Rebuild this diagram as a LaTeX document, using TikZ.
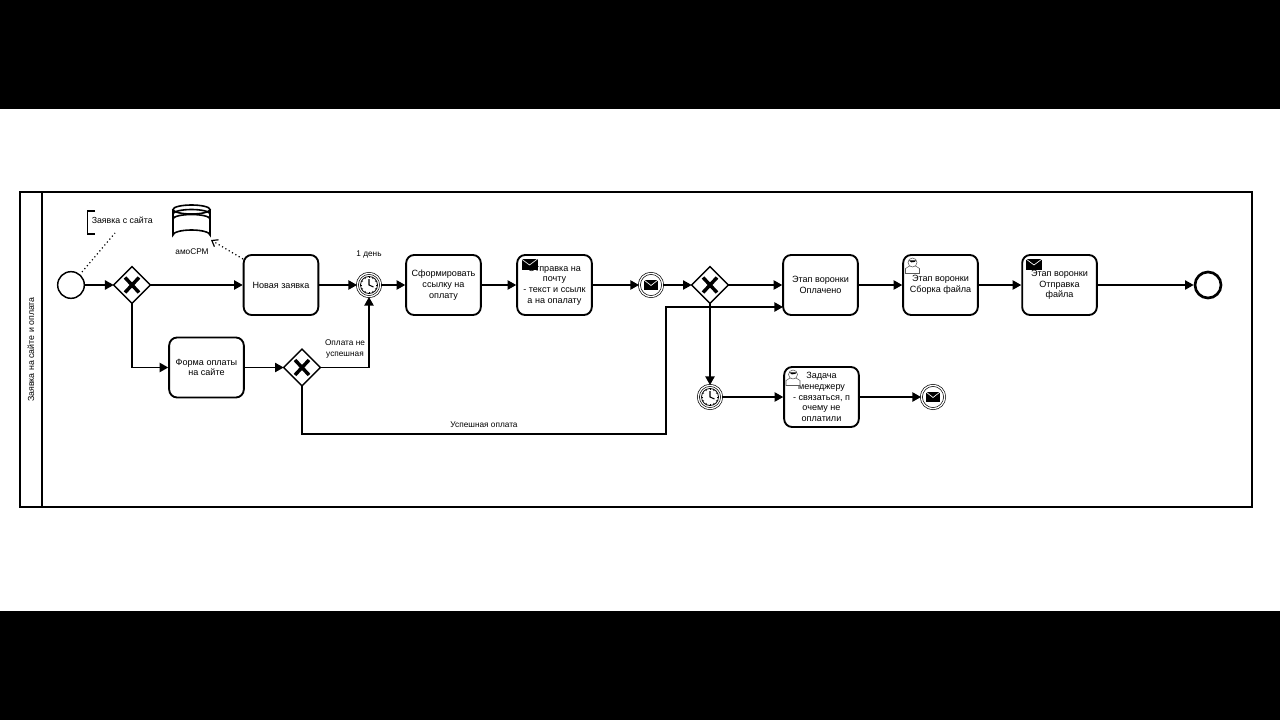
\documentclass[tikz,border=0pt]{standalone}
\usepackage{fontspec}
\setmainfont{Liberation Sans}
\usetikzlibrary{arrows.meta,shapes.geometric}

\tikzset{
    lanebox/.style={draw,line width=1.1pt,inner sep=0pt},
    task/.style={draw,line width=1.4pt,rounded corners=6pt,minimum width=56pt,minimum height=45pt,
        inner sep=0pt,align=center,font=\fontsize{6.8}{8}\selectfont},
    gateway/.style={diamond,draw,line width=1.1pt,fill=white,inner sep=0pt,outer sep=0pt,minimum width=27.5pt,minimum height=27.5pt},
    startevent/.style={circle,draw,line width=1.1pt,inner sep=0pt,minimum size=20pt},
    stopevent/.style={circle,draw,line width=2pt,inner sep=0pt,minimum size=19.5pt},
    midevent/.style={circle,draw,line width=.5pt,double,double distance=1pt,inner sep=0pt,minimum size=17.5pt},
    caption/.style={inner sep=0pt,align=center,font=\fontsize{6.2}{8}\selectfont},
    flow/.style={draw,line width=1.1pt,-{Triangle[length=6.5pt,width=7pt]}},
    assoc/.style={draw,line width=.9pt,dotted},
    mailicon/.pic={
        \fill (-8,-5.5) rectangle (8,5.5);
        \draw[white,line width=.5pt] (-8,-5.5)--(0,.5)--(8,-5.5);
    },
    smallmail/.pic={
        \fill (-7,-5) rectangle (7,5);
        \draw[white,line width=.5pt] (-7,-5)--(0,.5)--(7,-5);
    },
    usericon/.pic={
        \draw[black!65,line width=.4pt,fill=white] (-7,8)--(-7,3)--(-3,.5)--(3,.5)--(7,3)--(7,8)--cycle;
        \draw[black!65,line width=.4pt,fill=white] (0,-3) circle (4.5);
        \fill (-3.9,-5.25) arc (150:30:4.5) -- cycle;
    },
    clockicon/.pic={
        \draw[line width=.6pt] (0,0) circle (8.5);
        \foreach \ang in {0,30,...,330}
            \draw[line width=.4pt] (\ang:7) -- (\ang:8.5);
        \draw[line width=.8pt] (0,-6) -- (0,0) -- (4.5,2);
    },
    crossicon/.pic={
        \draw[line width=2.6pt] (-7,-7.5) -- (7,7.5);
        \draw[line width=2.6pt] (-7,7.5) -- (7,-7.5);
    },
}

\begin{document}
\begin{tikzpicture}[x=.75pt,y=-.75pt]
    \useasboundingbox (0,0) rectangle (1280,720);
    \fill (0,0) rectangle (1280,109);
    \fill (0,611) rectangle (1280,720);

    % lane
    \node[lanebox,minimum width=1210*.75pt,minimum height=315*.75pt] (lane) at (647,349.5) {};
    \node[lanebox,minimum width=315*.75pt,minimum height=22*.75pt,rotate=90,font=\fontsize{6.6}{8}\selectfont] (head) at (31,349.5) {Заявка на сайте и оплата};

    % top row
    \node[startevent] (start) at (71,285) {};
    \node[gateway] (gwa) at (132,285) {};
    \node[task] (tasknew) at (281,285) {Новая заявка};
    \node[midevent] (timera) at (369,285) {};
    \node[task] (tasklink) at (443.5,285) {Сформировать\\ссылку на\\оплату};
    \node[task] (taskmail) at (554.5,285) {Отправка на\\почту\\- текст и ссылк\\а на опалату};
    \node[midevent] (eventa) at (651,285) {};
    \node[gateway] (gwc) at (710,285) {};
    \node[task] (taskpaid) at (820.5,285) {Этап воронки\\Оплачено};
    \node[task] (taskbuild) at (940.5,285) {Этап воронки\\Сборка файла};
    \node[task] (tasksend) at (1059.5,285) {Этап воронки\\Отправка\\файла};
    \node[stopevent] (stop) at (1208,285) {};

    % lower rows
    \node[task] (taskform) at (206.5,367.5) {Форма оплаты\\на сайте};
    \node[gateway] (gwb) at (302,367.5) {};
    \node[midevent] (timerb) at (710,397) {};
    \node[task] (taskcall) at (821.5,397) {Задача\\менеджеру\\- связаться, п\\очему не\\оплатили};
    \node[midevent] (eventb) at (933,397) {};

    % icons
    \pic at (gwa) {crossicon};
    \pic at (gwb) {crossicon};
    \pic at (gwc) {crossicon};
    \pic at (timera) {clockicon};
    \pic at (timerb) {clockicon};
    \pic at (eventa) {smallmail};
    \pic at (eventb) {smallmail};
    \pic at (529.5,264.5) {mailicon};
    \pic at (1034,264.5) {mailicon};
    \pic at (912.5,265.5) {usericon};
    \pic at (793,377.5) {usericon};

    % annotation and store
    \draw[line width=.8pt] (95,211) -| (87.5,234) -- (95,234);
    \node[caption,anchor=west,font=\fontsize{6.6}{8}\selectfont] (note) at (91.5,220) {Заявка с сайта};
    \coordinate (notefoot) at (115,233);
    \coordinate (startfoot) at (82,272);
    \draw[assoc] (startfoot) -- (notefoot);

    \draw[line width=1.2pt,fill=white] (173,209.5) -- (173,235) arc (180:360:18.5 and 5) -- (210,209.5);
    \draw[line width=1.2pt,fill=white] (191.5,209.5) ellipse (18.5 and 4.5);
    \draw[line width=1.2pt] (173,214) arc (180:360:18.5 and 4.5);
    \draw[line width=1.2pt] (173,219) arc (180:360:18.5 and 4.5);
    \node[caption] (storename) at (192,251.5) {амоСРМ};
    \coordinate (storefoot) at (211,240);
    \coordinate (newcorner) at (243,259);
    \draw[assoc,-{Straight Barb[length=4pt,width=6pt]}] (newcorner) -- (storefoot);

    % flows
    \draw[flow] (start) -- (gwa);
    \draw[flow] (gwa) -- (tasknew);
    \draw[flow] (tasknew) -- (timera);
    \draw[flow] (timera) -- (tasklink);
    \draw[flow] (tasklink) -- (taskmail);
    \draw[flow] (taskmail) -- (eventa);
    \draw[flow] (eventa) -- (gwc);
    \draw[flow] (gwc) -- (taskpaid);
    \draw[flow] (taskpaid) -- (taskbuild);
    \draw[flow] (taskbuild) -- (tasksend);
    \draw[flow] (tasksend) -- (stop);
    \draw[flow] (gwa.south) |- (taskform);
    \draw[flow] (taskform) -- (gwb);
    \draw[flow] (gwb.east) -| (timera.south);
    \coordinate (turna) at (302,434);
    \coordinate (turnb) at (666,434);
    \coordinate (paidin) at (783,307);
    \draw[flow,line join=miter] (gwb.south) -- (turna) -- (turnb) |- (paidin);
    \draw[flow] (gwc.south) -- (timerb.north);
    \draw[flow] (timerb) -- (taskcall);
    \draw[flow] (taskcall) -- (eventb);

    % labels
    \node[caption] (dayname) at (369,254) {1 день};
    \node[caption] (failname) at (345,349) {Оплата не\\успешная};
    \node[caption] (okname) at (484,425) {Успешная оплата};
\end{tikzpicture}
\end{document}
